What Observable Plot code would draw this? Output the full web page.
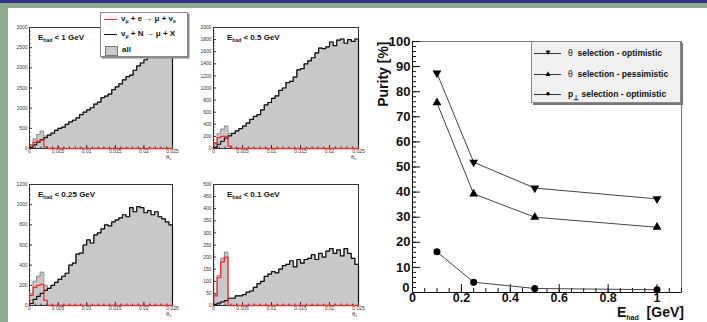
<!DOCTYPE html>
<html>
<head>
<meta charset="utf-8">
<script src="https://cdn.jsdelivr.net/npm/d3@7"></script>
<script src="https://cdn.jsdelivr.net/npm/@observablehq/plot@0.6"></script>
<style>
html, body { margin: 0; padding: 0; }
body { width: 707px; height: 322px; position: relative; overflow: hidden; background: #8dac8b; font-family: "Liberation Sans", Arial, Helvetica, sans-serif; }
.abs { position: absolute; }
#topbar { left: 0; top: 0; width: 707px; height: 3px; background: #33338f; }
#sheet { left: 8px; top: 8px; width: 699px; height: 314px; background: #ffffff; }
.ttl { font-size: 8px; line-height: 10px; font-weight: bold; color: #111; white-space: nowrap; }
.ttl sub, .leg sub, .xl sub { vertical-align: -2px; line-height: 0; }
.ttl sub { font-size: 5px; }
.th { font-size: 6px; line-height: 6px; color: #333; white-space: nowrap; }
.th sub { font-size: 4px; vertical-align: -1px; line-height: 0; }
.leg { background: #fff; border: 1px solid #8a8a8a; box-shadow: 1.5px 1.5px 0 #888; }
.leg .t { position: absolute; font-size: 8px; line-height: 10px; font-weight: bold; color: #111; white-space: nowrap; }
.leg .t sub { font-size: 5px; }
.pl { background: #f0f0f0; border: 1px solid #8a8a8a; box-shadow: 2px 2px 0 #777; }
.pl .t { position: absolute; font-size: 8.5px; line-height: 10px; font-weight: bold; color: #111; white-space: nowrap; }
.pl .ln { position: absolute; height: 1px; background: #333; }
.pl .mk { position: absolute; font-size: 8px; line-height: 10px; color: #000; width: 10px; text-align: center; }
.xl { font-size: 14px; line-height: 12px; font-weight: bold; color: #111; white-space: nowrap; }
.xl sub { font-size: 7px; vertical-align: -3px; }
</style>
</head>
<body>
<div id="topbar" class="abs"></div>
<div id="sheet" class="abs"></div>
<script>
// ---------------- data ----------------
const thetaMax = 0.025;
const nBins = 40;
const xTickValues = [0, 0.005, 0.01, 0.015, 0.02, 0.025];
const panelCuts = ["1", "0.5", "0.25", "0.1"];
const yMaxes = [3000, 2000, 1200, 500];
const yMajorSteps = [500, 200, 200, 50];
const yMinorSteps = [100, 50, 50, 10];

// nu_mu + N -> mu + X (black)
const ccCounts1 = [30, 90, 160, 220, 270, 330, 380, 450, 500, 530, 600, 660, 700, 760, 840, 900, 960, 1010, 1100, 1150,
                   1260, 1300, 1350, 1460, 1530, 1600, 1700, 1780, 1820, 1940, 2050, 2120, 2200, 2260, 2330, 2400, 2470, 2530, 2580, 2640];
const ccCounts2 = [20, 70, 120, 170, 210, 250, 290, 330, 370, 420, 480, 530, 560, 640, 720, 760, 830, 870, 960, 1000,
                   1090, 1110, 1180, 1300, 1320, 1400, 1450, 1500, 1580, 1660, 1650, 1680, 1760, 1700, 1790, 1810, 1740, 1800, 1770, 1810];
const ccCounts3 = [20, 60, 90, 120, 150, 170, 200, 230, 260, 290, 320, 400, 420, 510, 520, 600, 650, 620, 700, 720,
                   760, 800, 790, 830, 850, 870, 900, 880, 970, 930, 980, 970, 920, 940, 900, 930, 880, 860, 830, 800];
const ccCounts4 = [5, 10, 15, 20, 30, 30, 40, 40, 45, 55, 60, 75, 90, 100, 120, 130, 140, 135, 150, 165,
                   170, 185, 160, 190, 175, 190, 195, 210, 190, 215, 200, 225, 235, 215, 230, 205, 235, 215, 195, 170];
// nu_mu + e -> mu + nu_e (red)
const esCounts1 = [60, 150, 190, 210, 40, 0, 0, 0, 0, 0, 0, 0, 0, 0, 0, 0, 0, 0, 0, 0, 0, 0, 0, 0, 0, 0, 0, 0, 0, 0, 0, 0, 0, 0, 0, 0, 0, 0, 0, 0];
const esCounts2 = [80, 180, 200, 200, 40, 0, 0, 0, 0, 0, 0, 0, 0, 0, 0, 0, 0, 0, 0, 0, 0, 0, 0, 0, 0, 0, 0, 0, 0, 0, 0, 0, 0, 0, 0, 0, 0, 0, 0, 0];
const esCounts3 = [100, 180, 200, 210, 50, 0, 0, 0, 0, 0, 0, 0, 0, 0, 0, 0, 0, 0, 0, 0, 0, 0, 0, 0, 0, 0, 0, 0, 0, 0, 0, 0, 0, 0, 0, 0, 0, 0, 0, 0];
const esCounts4 = [40, 115, 180, 200, 0, 0, 0, 0, 0, 0, 0, 0, 0, 0, 0, 0, 0, 0, 0, 0, 0, 0, 0, 0, 0, 0, 0, 0, 0, 0, 0, 0, 0, 0, 0, 0, 0, 0, 0, 0];
const ccCounts = [ccCounts1, ccCounts2, ccCounts3, ccCounts4];
const esCounts = [esCounts1, esCounts2, esCounts3, esCounts4];

// purity plot
const energies = [0.1, 0.25, 0.5, 1];
const purityThetaOpt = [87.4, 51.9, 41.6, 37.3];
const purityThetaPess = [75.6, 39.3, 30.0, 26.0];
const purityPperpOpt = [16.2, 4.1, 1.6, 1.1];
const purityXTicks = [0, 0.2, 0.4, 0.6, 0.8, 1];
const purityYTicks = [0, 10, 20, 30, 40, 50, 60, 70, 80, 90, 100];

// ---------------- layout ----------------
const FONT = "Liberation Sans, Arial, Helvetica, sans-serif";
const frames = [
  {L: 29, T: 27, R: 172, B: 148, tx: 38, ty: 33, thx: 166},
  {L: 213, T: 27, R: 358, B: 148, tx: 227, ty: 33, thx: 351},
  {L: 29, T: 184, R: 172, B: 305, tx: 38, ty: 190, thx: 166},
  {L: 213, T: 184, R: 358, B: 305, tx: 227, ty: 190, thx: 352}
];

function place(node, left, top, w, h, cls) {
  const d = document.createElement("div");
  d.className = "abs" + (cls ? " " + cls : "");
  d.style.left = left + "px"; d.style.top = top + "px";
  if (w != null) d.style.width = w + "px";
  if (h != null) d.style.height = h + "px";
  if (node) d.appendChild(node);
  document.body.appendChild(d);
  return d;
}

const bw = thetaMax / nBins;
function stepPts(vals) {
  const p = [{x: 0, y: 0}];
  vals.forEach((v, i) => { p.push({x: i * bw, y: v}, {x: (i + 1) * bw, y: v}); });
  p.push({x: thetaMax, y: 0});
  return p;
}

frames.forEach((f, k) => {
  const mL = 22, mR = 12, mT = 8, mB = 14;
  const W = f.R - f.L + mL + mR, H = f.B - f.T + mT + mB;
  const cc = ccCounts[k], es = esCounts[k];
  const all = cc.map((v, i) => v + es[i]);
  const yMaj = d3.range(0, yMaxes[k] + 1, yMajorSteps[k]);
  const yMin = d3.range(0, yMaxes[k] + 1, yMinorSteps[k]);
  const xMin = d3.range(0, 26).map(i => i * 0.001);
  const plot = Plot.plot({
    width: W, height: H, marginLeft: mL, marginRight: mR, marginTop: mT, marginBottom: mB,
    x: {domain: [0, thetaMax]}, y: {domain: [0, yMaxes[k]]},
    style: {background: "transparent", fontFamily: FONT, color: "#333", overflow: "visible"},
    marks: [
      Plot.areaY(stepPts(all), {x: "x", y1: 0, y2: "y", fill: "#c8c8c8"}),
      Plot.frame({stroke: "#333", strokeWidth: 1}),
      Plot.line(stepPts(all), {x: "x", y: "y", stroke: "#8f8f8f", strokeWidth: 1}),
      Plot.line(stepPts(cc), {x: "x", y: "y", stroke: "#111", strokeWidth: 1.2}),
      Plot.line(stepPts(es), {x: "x", y: "y", stroke: "#ff2a2a", strokeWidth: 1.3}),
      Plot.axisY(yMin, {tickSize: -1.5, tickFormat: () => "", label: null}),
      Plot.axisY(yMaj, {tickSize: -3, tickFormat: () => "", label: null}),
      Plot.axisY(yMaj, {tickSize: 0, tickPadding: 2, fontSize: 5, label: null, tickFormat: d3.format("d")}),
      Plot.axisX(xMin, {tickSize: -1.5, tickFormat: () => "", label: null}),
      Plot.axisX(xTickValues, {tickSize: -3, tickFormat: () => "", label: null}),
      Plot.axisX(xTickValues, {tickSize: 0, tickPadding: 0.5, fontSize: 5, label: null, tickFormat: d => d === 0 ? "0" : String(d)})
    ]
  });
  place(plot, f.L - mL, f.T - mT, W, H);
  const t = place(null, f.tx, f.ty, null, null, "ttl");
  t.innerHTML = "E<sub>had</sub> &lt; " + panelCuts[k] + " GeV";
  const th = place(null, f.thx, f.B + 6, null, null, "th");
  th.innerHTML = "θ<sub>ν</sub>";
});

// legend of histograms
const hl = place(null, 100, 12, 86, 43, "leg");
hl.innerHTML =
  '<div class="abs" style="left:3px;top:6px;width:13px;height:1.3px;background:#ff2a2a"></div>' +
  '<div class="t" style="left:20px;top:1px">ν<sub>μ</sub> + e → μ + ν<sub>e</sub></div>' +
  '<div class="abs" style="left:3px;top:21px;width:13px;height:1.3px;background:#111"></div>' +
  '<div class="t" style="left:20px;top:16px">ν<sub>μ</sub> + N → μ + X</div>' +
  '<div class="abs" style="left:4px;top:33px;width:11px;height:8px;background:#c8c8c8;border:1px solid #777"></div>' +
  '<div class="t" style="left:21px;top:32px">all</div>';

// ---------------- purity plot ----------------
const purityRows = [];
[purityThetaOpt, purityThetaPess, purityPperpOpt].forEach((arr, s) =>
  arr.forEach((p, i) => purityRows.push({e: energies[i], p, s})));

const pur = Plot.plot({
  width: 347, height: 302, marginLeft: 52, marginRight: 26, marginTop: 21, marginBottom: 30,
  x: {domain: [0, 1.1]}, y: {domain: [0, 100]},
  style: {background: "transparent", fontFamily: FONT, fontWeight: "bold", color: "#111", overflow: "visible"},
  marks: [
    Plot.frame({stroke: "#777"}),
    Plot.ruleX([0], {stroke: "#111"}),
    Plot.ruleY([0], {stroke: "#111"}),
    Plot.axisY(d3.range(0, 101, 2), {tickSize: -4, tickFormat: () => "", label: null}),
    Plot.axisY(purityYTicks, {tickSize: -8, tickFormat: () => "", label: null}),
    Plot.axisY(purityYTicks.filter(d => d > 0), {tickSize: 0, tickPadding: 2, fontSize: 13, label: null, tickFormat: d3.format("d")}),
    Plot.axisY([0], {tickSize: 0, tickPadding: 3, dy: -5, fontSize: 13, label: null, tickFormat: d3.format("d")}),
    Plot.axisX(d3.range(0, 23).map(i => i * 0.05), {tickSize: -4, tickFormat: () => "", label: null}),
    Plot.axisX(purityXTicks, {tickSize: -8, tickFormat: () => "", label: null}),
    Plot.axisX(purityXTicks, {tickSize: 0, tickPadding: 1, fontSize: 12.5, label: null, tickFormat: d => String(d)}),
    Plot.line(purityRows, {x: "e", y: "p", z: "s", stroke: "#444", strokeWidth: 1}),
    Plot.dot(purityRows.filter(d => d.s === 0), {x: "e", y: "p", symbol: "triangle", rotate: 180, r: 3.3, fill: "#000", stroke: "none"}),
    Plot.dot(purityRows.filter(d => d.s === 1), {x: "e", y: "p", symbol: "triangle", r: 3.3, fill: "#000", stroke: "none"}),
    Plot.dot(purityRows.filter(d => d.s === 2), {x: "e", y: "p", symbol: "circle", r: 3.5, fill: "#000", stroke: "none"}),
    Plot.text(["Purity [%]"], {text: d => d, frameAnchor: "top-left", rotate: -90, textAnchor: "end", lineAnchor: "middle", dx: -29, fontSize: 14, fontWeight: "bold"})
  ]
});
place(pur, 360, 20, 347, 302);

const xl = place(null, 617, 306, null, null, "xl");
xl.innerHTML = "E<sub>had</sub>&nbsp;&nbsp;[GeV]";

const pl = place(null, 531, 41, 148, 60, "pl");
pl.innerHTML =
  '<div class="ln" style="left:2px;top:11px;width:27px"></div><div class="mk" style="left:11px;top:6px">▼</div>' +
  '<div class="t" style="left:36px;top:6px"><span style="font-weight:normal">θ</span>&nbsp;&nbsp;selection - optimistic</div>' +
  '<div class="ln" style="left:2px;top:32px;width:27px"></div><div class="mk" style="left:11px;top:27px">▲</div>' +
  '<div class="t" style="left:36px;top:27px"><span style="font-weight:normal">θ</span>&nbsp;&nbsp;selection - pessimistic</div>' +
  '<div class="ln" style="left:2px;top:52px;width:27px"></div><div class="mk" style="left:11px;top:47px">●</div>' +
  '<div class="t" style="left:36px;top:47px">p<sub style="font-size:7px">⊥</sub>&nbsp;selection - optimistic</div>';
</script>
</body>
</html>
